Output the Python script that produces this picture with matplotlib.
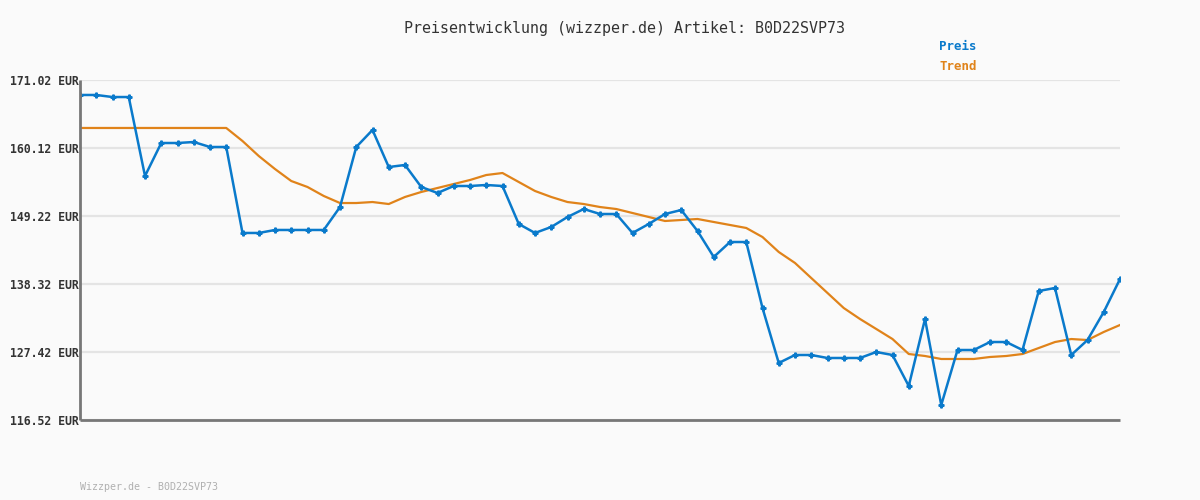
import matplotlib
matplotlib.use("Agg")
import matplotlib.pyplot as plt
import numpy as np

# price history (EUR)
preis = [168.62, 168.62, 168.29, 168.29, 155.63, 160.92, 160.92, 161.08, 160.28, 160.28,
         146.50, 146.50, 146.98, 146.98, 146.98, 146.98, 150.66, 160.28, 163.01, 157.07,
         157.40, 153.87, 152.91, 154.03, 154.03, 154.19, 154.03, 147.94, 146.50, 147.46,
         149.06, 150.34, 149.54, 149.54, 146.50, 147.94, 149.54, 150.18, 146.82, 142.65,
         145.05, 145.05, 134.47, 125.66, 126.94, 126.94, 126.46, 126.46, 126.46, 127.42,
         126.94, 121.97, 132.71, 118.92, 127.74, 127.74, 129.02, 129.02, 127.74, 137.20,
         137.68, 126.94, 129.34, 133.83, 139.12]

trend = [163.33, 163.33, 163.33, 163.33, 163.33, 163.33, 163.33, 163.33, 163.33, 163.33,
         161.24, 158.84, 156.75, 154.83, 153.87, 152.43, 151.30, 151.30, 151.46, 151.14,
         152.27, 153.07, 153.71, 154.35, 154.99, 155.79, 156.11, 154.67, 153.23, 152.27,
         151.46, 151.14, 150.66, 150.34, 149.70, 149.06, 148.42, 148.58, 148.74, 148.26,
         147.78, 147.30, 145.85, 143.45, 141.69, 139.28, 136.88, 134.47, 132.71, 131.11,
         129.50, 127.10, 126.78, 126.30, 126.30, 126.30, 126.62, 126.78, 127.10, 128.06,
         129.02, 129.50, 129.34, 130.63, 131.75]

y_ticks = [116.52, 127.42, 138.32, 149.22, 160.12, 171.02]
tick_labels = ["%.2f EUR" % v for v in y_ticks]

bg = "#fafafa"
blue = "#0a7acb"
orange = "#e0831a"
mono = "DejaVu Sans Mono"

fig = plt.figure(figsize=(12, 5), dpi=100, facecolor=bg)
ax = fig.add_axes([80 / 1200, 80 / 500, 1040 / 1200, 340 / 500], facecolor=bg)

x = np.arange(len(preis))
ax.plot(x, trend, color=orange, lw=1.6, zorder=3)
ax.plot(x, preis, color=blue, lw=1.8, marker="P", markersize=3.5, zorder=4)

ax.set_xlim(0, len(preis) - 1)
ax.set_ylim(y_ticks[0], y_ticks[-1])
ax.set_yticks(y_ticks)
ax.set_yticklabels(tick_labels, family=mono, fontweight="bold", fontsize=8.3, color="#333333")
ax.set_xticks([])
ax.tick_params(axis="y", length=0, pad=1)
ax.grid(axis="y", color="#e4e4e4", lw=1.6, zorder=0)

for s in ["top", "right"]:
    ax.spines[s].set_visible(False)
for s in ["left", "bottom"]:
    ax.spines[s].set_color("#777777")
    ax.spines[s].set_linewidth(2)
    ax.spines[s].set_capstyle("butt")
    ax.spines[s].set_zorder(5)

fig.text(624 / 1200, 1 - 28 / 500, "Preisentwicklung (wizzper.de) Artikel: B0D22SVP73",
         ha="center", va="center", family=mono, fontsize=10.8, color="#333333")
fig.text(939 / 1200, 1 - 47 / 500, "Preis", ha="left", va="center", family=mono,
         fontweight="bold", fontsize=9, color=blue)
fig.text(939 / 1200, 1 - 67 / 500, "Trend", ha="left", va="center", family=mono,
         fontweight="bold", fontsize=9, color=orange)
fig.text(80 / 1200, 1 - 487 / 500, "Wizzper.de - B0D22SVP73", ha="left", va="center",
         family=mono, fontsize=7.2, color="#b0b0b0")

fig.savefig("out.png", dpi=100, facecolor=bg)
